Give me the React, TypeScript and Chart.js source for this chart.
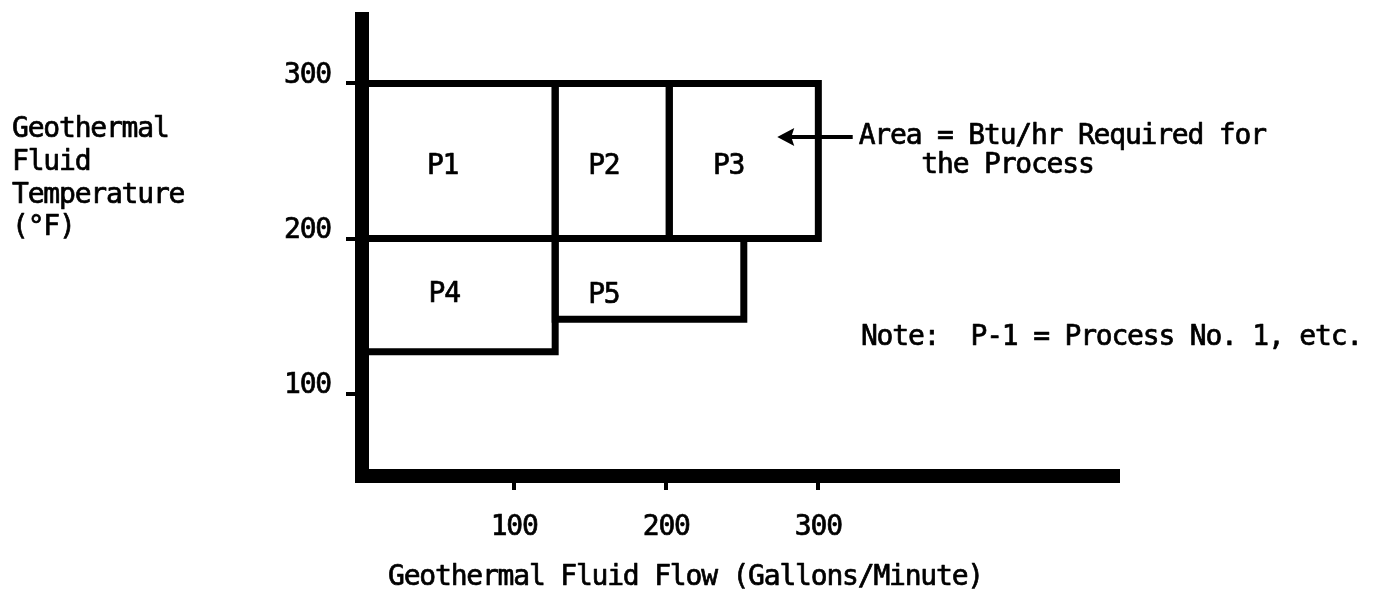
import React, { useEffect, useRef } from 'react';
import { Chart, registerables } from 'chart.js';

Chart.register(...registerables);

// ---- data ----
const processes = ['P1', 'P2', 'P3', 'P4', 'P5'];
const flowStart = [0, 127, 202, 0, 127];
const flowEnd = [127, 202, 300, 127, 251];
const tempLow = [200, 200, 200, 127, 148];
const tempHigh = [300, 300, 300, 200, 200];
const labelFlow = [53, 159, 241, 54, 159];
const labelTemp = [246, 246, 246, 164, 163];
const xTicks = [100, 200, 300];
const yTicks = [100, 200, 300];
const xTitle = 'Geothermal Fluid Flow (Gallons/Minute)';
const yTitleLines = ['Geothermal', 'Fluid', 'Temperature', '(°F)'];
const areaNote = ['Area = Btu/hr Required for', 'the Process'];
const processNote = 'Note:  P-1 = Process No. 1, etc.';

const FONT_FAMILY = '"DejaVu Sans Mono", monospace';
const FONT_SIZE = 28;
const LETTER_SPACING = '-1.2px';
const TEXT_STROKE = 0.7;
const FONT = `${FONT_SIZE}px ${FONT_FAMILY}`;

// typewriter-like pitch: slightly tightened monospace
const letterSpacing = {
  id: 'letterSpacing',
  beforeDraw(chart: any) {
    try {
      (chart.ctx as any).letterSpacing = LETTER_SPACING;
    } catch (e) {
      /* ignore */
    }
  },
};

const annotations = {
  id: 'annotations',
  afterDatasetsDraw(chart: any) {
    const { ctx, scales } = chart;
    const x = scales.x;
    const y = scales.y;
    ctx.save();
    ctx.letterSpacing = LETTER_SPACING;
    ctx.fillStyle = '#000';
    ctx.strokeStyle = '#000';
    ctx.font = FONT;
    ctx.textBaseline = 'middle';
    ctx.textAlign = 'center';
    ctx.lineJoin = 'round';

    const text = (t: string, px: number, py: number) => {
      ctx.lineWidth = TEXT_STROKE;
      ctx.strokeText(t, px, py);
      ctx.fillText(t, px, py);
    };

    processes.forEach((p, i) => {
      text(p, x.getPixelForValue(labelFlow[i]), y.getPixelForValue(labelTemp[i]));
    });

    // arrow pointing into P3
    const ay = y.getPixelForValue(265.5);
    const tip = x.getPixelForValue(273);
    const tail = x.getPixelForValue(322.6);
    ctx.lineWidth = 4;
    ctx.beginPath();
    ctx.moveTo(tip + 10, ay);
    ctx.lineTo(tail, ay);
    ctx.stroke();
    ctx.beginPath();
    ctx.moveTo(tip, ay);
    ctx.lineTo(tip + 17, ay - 9);
    ctx.lineTo(tip + 14, ay);
    ctx.lineTo(tip + 17, ay + 9);
    ctx.closePath();
    ctx.fill();

    ctx.textAlign = 'left';
    const cw = ctx.measureText('MM').width - ctx.measureText('M').width;
    text(areaNote[0], tail + 6, ay);
    text(areaNote[1], tail + 6 + 4 * cw, ay + 29);

    text(processNote, x.getPixelForValue(328), y.getPixelForValue(136));

    // y-axis title (horizontal, stacked)
    yTitleLines.forEach((t, i) => {
      text(t, 12, 130 + i * 32.7);
    });

    // x-axis title
    text(xTitle, 388, 578);
    ctx.restore();
  },
};

const noPadding = (s: any) => {
  s.paddingTop = 0;
  s.paddingBottom = 0;
  s.paddingLeft = 0;
  s.paddingRight = 0;
};

export default function App() {
  const ref = useRef<HTMLCanvasElement | null>(null);

  useEffect(() => {
    if (!ref.current) return;
    const datasets = processes.map((p, i) => ({
      label: p,
      data: [
        { x: flowStart[i], y: tempLow[i] },
        { x: flowEnd[i], y: tempLow[i] },
        { x: flowEnd[i], y: tempHigh[i] },
        { x: flowStart[i], y: tempHigh[i] },
        { x: flowStart[i], y: tempLow[i] },
      ],
      showLine: true,
      borderColor: '#000',
      backgroundColor: '#000',
      borderWidth: 7,
      pointRadius: 0,
      borderCapStyle: 'square' as const,
      borderJoinStyle: 'miter' as const,
      tension: 0,
      fill: false,
    }));

    const tickFont = { family: FONT_FAMILY, size: FONT_SIZE };

    const chart = new Chart(ref.current, {
      type: 'scatter',
      data: { datasets },
      options: {
        animation: false,
        responsive: true,
        maintainAspectRatio: false,
        events: [],
        layout: { padding: { top: 19, right: 265, left: 0, bottom: 0 } },
        plugins: {
          legend: { display: false },
          tooltip: { enabled: false },
          title: { display: false },
        },
        scales: {
          x: {
            type: 'linear',
            min: 0,
            max: 497,
            afterFit: (s: any) => {
              s.height = 125;
              noPadding(s);
            },
            afterBuildTicks: (s: any) => {
              s.ticks = xTicks.map((v) => ({ value: v }));
            },
            border: { display: true, width: 14, color: '#000' },
            grid: {
              display: true,
              drawOnChartArea: false,
              drawTicks: true,
              tickLength: 14,
              lineWidth: 4,
              color: '#000',
            },
            ticks: {
              color: '#000',
              font: tickFont,
              padding: 21,
              maxRotation: 0,
              autoSkip: false,
              textStrokeColor: '#000',
              textStrokeWidth: TEXT_STROKE,
            },
          },
          y: {
            type: 'linear',
            min: 47,
            max: 341.5,
            afterFit: (s: any) => {
              s.width = 362;
              noPadding(s);
            },
            afterBuildTicks: (s: any) => {
              s.ticks = yTicks.map((v) => ({ value: v }));
            },
            border: { display: true, width: 14, color: '#000' },
            grid: {
              display: true,
              drawOnChartArea: false,
              drawTicks: true,
              tickLength: 16,
              lineWidth: 4,
              color: '#000',
            },
            ticks: {
              color: '#000',
              font: tickFont,
              padding: 15,
              labelOffset: -8,
              autoSkip: false,
              textStrokeColor: '#000',
              textStrokeWidth: TEXT_STROKE,
            },
          },
        },
      },
      plugins: [letterSpacing, annotations],
    });
    return () => chart.destroy();
  }, []);

  return (
    <div style={{ position: 'fixed', left: 0, top: 0, width: 1383, height: 601, background: '#fff' }}>
      <canvas ref={ref} />
    </div>
  );
}
